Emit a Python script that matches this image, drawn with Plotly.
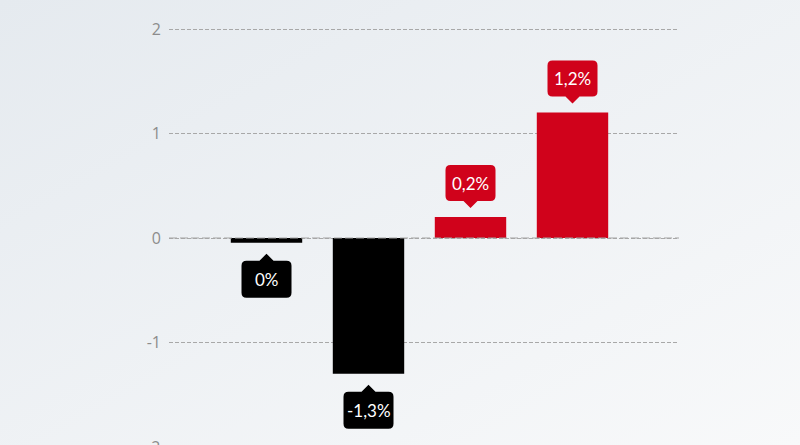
import base64
import plotly.graph_objects as go

# ---- data ----
categories = ["A", "B", "C", "D"]
values = [-0.045, -1.3, 0.2, 1.2]
value_labels = ["0%", "-1,3%", "0,2%", "1,2%"]
bar_colors = ["#000000", "#000000", "#d0021b", "#d0021b"]
y_tickvals = [-1, 0, 1, 2]
y_ticktext = ["-1", "0", "1", "2"]
hidden_tick = -2
hidden_tick_text = "-2"

W, H = 800, 445
L, R, T, B = 169, 121, 24, 0
PW, PH = W - L - R, H - T - B
PX_PER_UNIT = 104.5

xpos = list(range(len(categories)))

fig = go.Figure()
fig.add_trace(go.Bar(
    x=xpos, y=values, width=0.7,
    marker=dict(color=bar_colors, line=dict(width=0)),
    hoverinfo="skip",
))


def callout_path(sign):
    # pixel offsets relative to bar end, y up
    hw, r, pw = 25, 5, 7
    if sign > 0:
        tip, near, far = 9, 16, 52
    else:
        tip, near, far = -11, -18, -55
    n, f, t = near, far, tip
    d = 1 if sign > 0 else -1
    p = (f"M {-hw + r},{n} L {-pw},{n} L 0,{t} L {pw},{n} L {hw - r},{n} "
         f"Q {hw},{n} {hw},{n + d * r} L {hw},{f - d * r} Q {hw},{f} {hw - r},{f} "
         f"L {-hw + r},{f} Q {-hw},{f} {-hw},{f - d * r} L {-hw},{n + d * r} "
         f"Q {-hw},{n} {-hw + r},{n} Z")
    return p, (near + far) / 2


shapes = []
annotations = []
for xi, v, lab, col in zip(xpos, values, value_labels, bar_colors):
    s = 1 if v > 0 else -1
    path, mid = callout_path(s)
    shapes.append(dict(
        type="path", xref="x", yref="y", xsizemode="pixel", ysizemode="pixel",
        xanchor=xi, yanchor=v, path=path, fillcolor=col, line=dict(width=0),
        layer="above",
    ))
    annotations.append(dict(
        x=xi, y=v, xref="x", yref="y", text=lab, showarrow=False,
        yshift=mid, font=dict(family="Lato", size=17, color="#ffffff"),
    ))

# zero line
shapes.append(dict(
    type="line", xref="paper", yref="y", x0=0, x1=1, y0=0, y1=0,
    line=dict(color="#a4a4a4", width=1.2, dash="8px,3px"), layer="above",
))

y_top = 2 + 5 / PX_PER_UNIT
y_bot = y_top - PH / PX_PER_UNIT

# partially visible bottom tick label (outside the visible range)
annotations.append(dict(
    x=0, y=(hidden_tick - y_bot) / (y_top - y_bot), xref="paper", yref="paper",
    text=hidden_tick_text, showarrow=False, xanchor="right", yanchor="middle",
    xshift=-7, font=dict(family="Open Sans", size=16, color="#8c8c8c"),
))

# background gradient
svg = (f'<svg xmlns="http://www.w3.org/2000/svg" width="{W}" height="{H}" '
       f'viewBox="0 0 {W} {H}" preserveAspectRatio="none">'
       '<defs><linearGradient id="g" x1="0" y1="0" x2="1" y2="1">'
       '<stop offset="0" stop-color="#e5eaef"/>'
       '<stop offset="1" stop-color="#f8f9fa"/>'
       '</linearGradient></defs>'
       f'<rect width="{W}" height="{H}" fill="url(#g)"/></svg>')
src = "data:image/svg+xml;base64," + base64.b64encode(svg.encode()).decode()

fig.update_layout(
    width=W, height=H,
    margin=dict(l=L, r=R, t=T, b=B),
    paper_bgcolor="#eef1f4",
    plot_bgcolor="rgba(0,0,0,0)",
    showlegend=False,
    shapes=shapes,
    annotations=annotations,
    images=[dict(
        source=src, xref="paper", yref="paper",
        x=-L / PW, y=1 + T / PH, sizex=W / PW, sizey=H / PH,
        sizing="stretch", xanchor="left", yanchor="top", layer="below",
    )],
    xaxis=dict(
        range=[(L - 266.5) / 102, (L + PW - 266.5) / 102],
        showticklabels=False, showgrid=False, zeroline=False, showline=False,
        ticks="", fixedrange=True,
    ),
    yaxis=dict(
        range=[y_bot, y_top],
        tickvals=y_tickvals, ticktext=y_ticktext,
        showgrid=True, gridcolor="#a8a8a8", gridwidth=1, griddash="4px,2px",
        zeroline=False, showline=False, ticks="",
        ticklabelstandoff=7, fixedrange=True,
        tickfont=dict(family="Open Sans", size=16, color="#8c8c8c"),
    ),
    font=dict(family="Lato"),
)

fig.write_html("out.html", config={"displayModeBar": False, "staticPlot": True})

# remove default page margin so the figure sits at the window origin
with open("out.html", encoding="utf-8") as fh:
    html = fh.read()
html = html.replace("<head>", "<head><style>html,body{margin:0;padding:0;overflow:hidden;}</style>", 1)
with open("out.html", "w", encoding="utf-8") as fh:
    fh.write(html)
